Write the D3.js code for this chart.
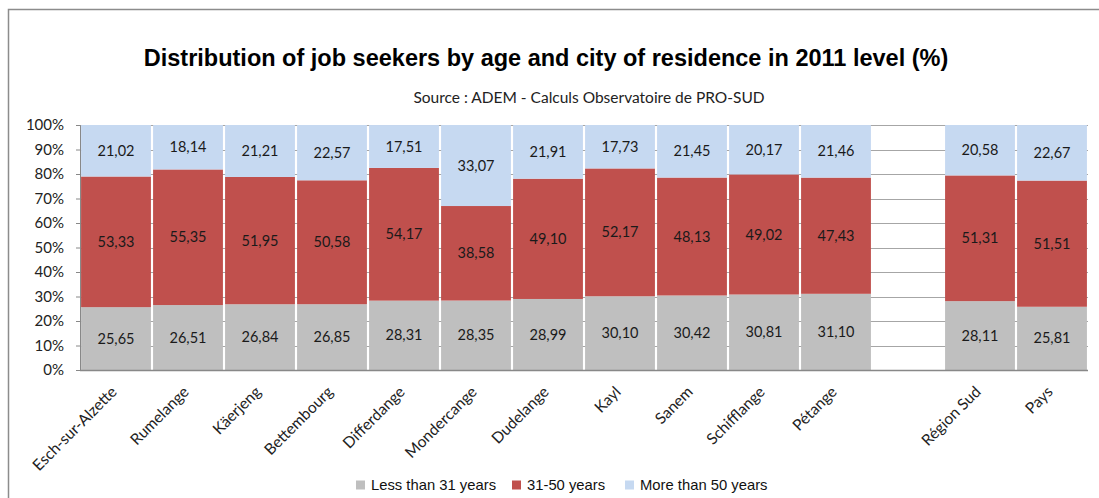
<!DOCTYPE html>
<html>
<head>
<meta charset="utf-8">
<script src="https://cdn.jsdelivr.net/npm/d3@7"></script>
<style>
  html, body { margin: 0; padding: 0; background: #fff; }
  svg { display: block; }
</style>
</head>
<body>
<svg id="chart" width="1099" height="498"></svg>
<script>
// Cities (plus a blank spacer slot before the regional and national totals)
const categories = [
  "Esch-sur-Alzette", "Rumelange", "Käerjeng", "Bettembourg", "Differdange",
  "Mondercange", "Dudelange", "Kayl", "Sanem", "Schifflange", "Pétange",
  "", "Région Sud", "Pays"
];
const under31 = [25.65, 26.51, 26.84, 26.85, 28.31, 28.35, 28.99, 30.10, 30.42, 30.81, 31.10, null, 28.11, 25.81];
const from31to50 = [53.33, 55.35, 51.95, 50.58, 54.17, 38.58, 49.10, 52.17, 48.13, 49.02, 47.43, null, 51.31, 51.51];
const over50 = [21.02, 18.14, 21.21, 22.57, 17.51, 33.07, 21.91, 17.73, 21.45, 20.17, 21.46, null, 20.58, 22.67];
const seriesNames = ["Less than 31 years", "31-50 years", "More than 50 years"];
const seriesColors = ["#BFBFBF", "#C0504D", "#C6D9F1"];
const yTicks = [0, 10, 20, 30, 40, 50, 60, 70, 80, 90, 100];

const titleText = "Distribution of job seekers by age and city of residence in 2011 level (%)";
const subtitleText = "Source : ADEM - Calculs Observatoire de PRO-SUD";

const svg = d3.select("#chart");
const labelFont = "Lato, 'Open Sans', sans-serif";

// Outer chart frame
svg.append("rect")
  .attr("x", 8.5).attr("y", 9.5)
  .attr("width", 1200).attr("height", 600)
  .attr("fill", "none").attr("stroke", "#8c8c8c").attr("stroke-width", 1.5);

const plot = { left: 80, right: 1088, top: 125, bottom: 370 };

const slots = categories.map((c, i) => "slot" + i);
const x = d3.scaleBand().domain(slots).range([plot.left, plot.right]).paddingInner(0.03).paddingOuter(0.015);
const y = d3.scaleLinear().domain([0, 100]).range([plot.bottom, plot.top]);

// Gridlines
svg.append("g").selectAll("line").data(yTicks.filter(t => t > 0)).join("line")
  .attr("x1", plot.left).attr("x2", plot.right)
  .attr("y1", d => Math.round(y(d)) + 0.5).attr("y2", d => Math.round(y(d)) + 0.5)
  .attr("stroke", "#a6a6a6").attr("stroke-width", 1);

// Stack the three age groups
const rows = categories.map((c, i) => ({
  slot: slots[i], name: c,
  s0: under31[i], s1: from31to50[i], s2: over50[i]
})).filter(r => r.s0 !== null);

const stack = d3.stack().keys(["s0", "s1", "s2"]);
const stacked = stack(rows);

const layers = svg.append("g").selectAll("g").data(stacked).join("g")
  .attr("fill", (d, i) => seriesColors[i]);

layers.selectAll("rect").data(d => d).join("rect")
  .attr("x", d => x(d.data.slot))
  .attr("width", x.bandwidth())
  .attr("y", d => y(d[1]))
  .attr("height", d => y(d[0]) - y(d[1]));

// Segment value labels
const fmt = v => v.toFixed(2).replace(".", ",");
layers.selectAll("text").data(d => d.map(p => ({ p, key: d.key }))).join("text")
  .attr("x", d => x(d.p.data.slot) + x.bandwidth() / 2)
  .attr("y", d => (y(d.p[0]) + y(d.p[1])) / 2)
  .attr("dy", "0.35em")
  .attr("text-anchor", "middle")
  .attr("fill", "#1a1a1a")
  .style("font-family", labelFont)
  .style("font-size", "14.5px")
  .text(d => fmt(d.p.data[d.key]));

// Y axis
const yAxis = d3.axisLeft(y).tickValues(yTicks).tickFormat(d => d + "%").tickSize(4).tickPadding(12);
const yg = svg.append("g").attr("transform", `translate(${plot.left},0)`).call(yAxis);
yg.select(".domain").attr("stroke", "#888");
yg.selectAll(".tick line").attr("stroke", "#888");
yg.selectAll(".tick text")
  .attr("fill", "#222")
  .style("font-family", labelFont)
  .style("font-size", "15px");

// X axis baseline
svg.append("line")
  .attr("x1", plot.left).attr("x2", plot.right)
  .attr("y1", plot.bottom + 0.5).attr("y2", plot.bottom + 0.5)
  .attr("stroke", "#888").attr("stroke-width", 1.5);

// Rotated category labels
svg.append("g").selectAll("text").data(rows).join("text")
  .attr("transform", d => `translate(${x(d.slot) + x.bandwidth() / 2 - 2},${plot.bottom + 19}) rotate(-45)`)
  .attr("text-anchor", "end")
  .attr("dy", "0.35em")
  .attr("fill", "#222")
  .style("font-family", labelFont)
  .style("font-size", "15.5px")
  .text(d => d.name);

// Title and source
svg.append("text")
  .attr("x", 546).attr("y", 66)
  .attr("text-anchor", "middle")
  .attr("fill", "#000")
  .style("font-family", "'Liberation Sans', Arial, sans-serif")
  .style("font-weight", "bold")
  .style("font-size", "23.5px")
  .text(titleText);

svg.append("text")
  .attr("x", 589).attr("y", 103)
  .attr("text-anchor", "middle")
  .attr("fill", "#222")
  .style("font-family", labelFont)
  .style("font-size", "15.5px")
  .text(subtitleText);

// Legend
const legendX = [356, 512, 625];
const legend = svg.append("g").selectAll("g").data(seriesNames).join("g")
  .attr("transform", (d, i) => `translate(${legendX[i]},485)`);
legend.append("rect")
  .attr("x", 0).attr("y", -4.5).attr("width", 9).attr("height", 9)
  .attr("fill", (d, i) => seriesColors[i]);
legend.append("text")
  .attr("x", 15).attr("y", 0).attr("dy", "0.35em")
  .attr("fill", "#111")
  .style("font-family", "'Liberation Sans', Arial, sans-serif")
  .style("font-size", "14.8px")
  .text(d => d);
</script>
</body>
</html>
